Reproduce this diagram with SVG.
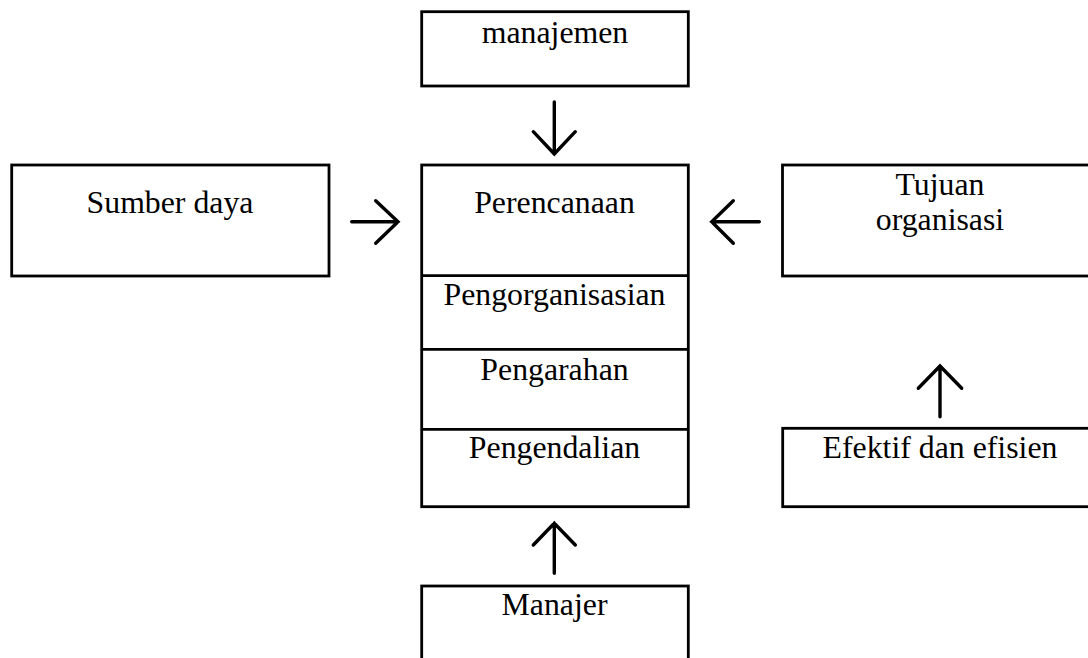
<svg xmlns="http://www.w3.org/2000/svg" width="1088" height="658" viewBox="0 0 1088 658">
<style>
.box{fill:#fff;stroke:#000;stroke-width:2.8}
.t{font-family:"Liberation Serif","Times New Roman",serif;font-size:31.8px;fill:#000;text-anchor:middle}
.arr{fill:none;stroke:#000;stroke-width:3.4;stroke-linecap:round;stroke-linejoin:miter}
</style>
<rect width="1088" height="658" fill="#fff"/>
<g id="manajemen">
<rect class="box" x="421.7" y="11.7" width="266.6" height="74.3"/>
<text class="t" x="555" y="43">manajemen</text>
</g>
<g id="sumber-daya">
<rect class="box" x="11.7" y="165" width="317.3" height="111"/>
<text class="t" x="170" y="213.3">Sumber daya</text>
</g>
<g id="fungsi">
<rect class="box" x="421.7" y="165" width="266.6" height="341.7"/>
<line class="box" x1="421.7" y1="275.7" x2="688.3" y2="275.7"/>
<line class="box" x1="421.7" y1="349.3" x2="688.3" y2="349.3"/>
<line class="box" x1="421.7" y1="429.3" x2="688.3" y2="429.3"/>
<text class="t" x="554.5" y="212.7">Perencanaan</text>
<text class="t" x="554.5" y="305">Pengorganisasian</text>
<text class="t" x="554.5" y="380">Pengarahan</text>
<text class="t" x="554.5" y="458.3">Pengendalian</text>
</g>
<g id="tujuan-organisasi">
<rect class="box" x="782.5" y="165" width="320" height="111"/>
<text class="t" x="940" y="195">Tujuan</text>
<text class="t" x="940" y="230">organisasi</text>
</g>
<g id="efektif-efisien">
<rect class="box" x="782.7" y="428.3" width="320" height="78.4"/>
<text class="t" x="940" y="458.3">Efektif dan efisien</text>
</g>
<g id="manajer">
<rect class="box" x="421.7" y="586" width="266.6" height="90"/>
<text class="t" x="554.5" y="615">Manajer</text>
</g>
<g id="connectors">
<path class="arr" d="M554.3 102 V154 M533.3 131.7 L554.3 154 L575.3 131.7"/>
<path class="arr" d="M351.7 221.7 H398 M375.7 200.7 L398 221.7 L375.7 243.3"/>
<path class="arr" d="M759.3 221.7 H711.7 M733.3 200.7 L711.7 221.7 L733.3 243.3"/>
<path class="arr" d="M554.3 573.3 V523.3 M533.3 545 L554.3 523.3 L575.3 545"/>
<path class="arr" d="M940 416.7 V366 M918.3 388.3 L940 366 L961.7 388.3"/>
</g>
</svg>
